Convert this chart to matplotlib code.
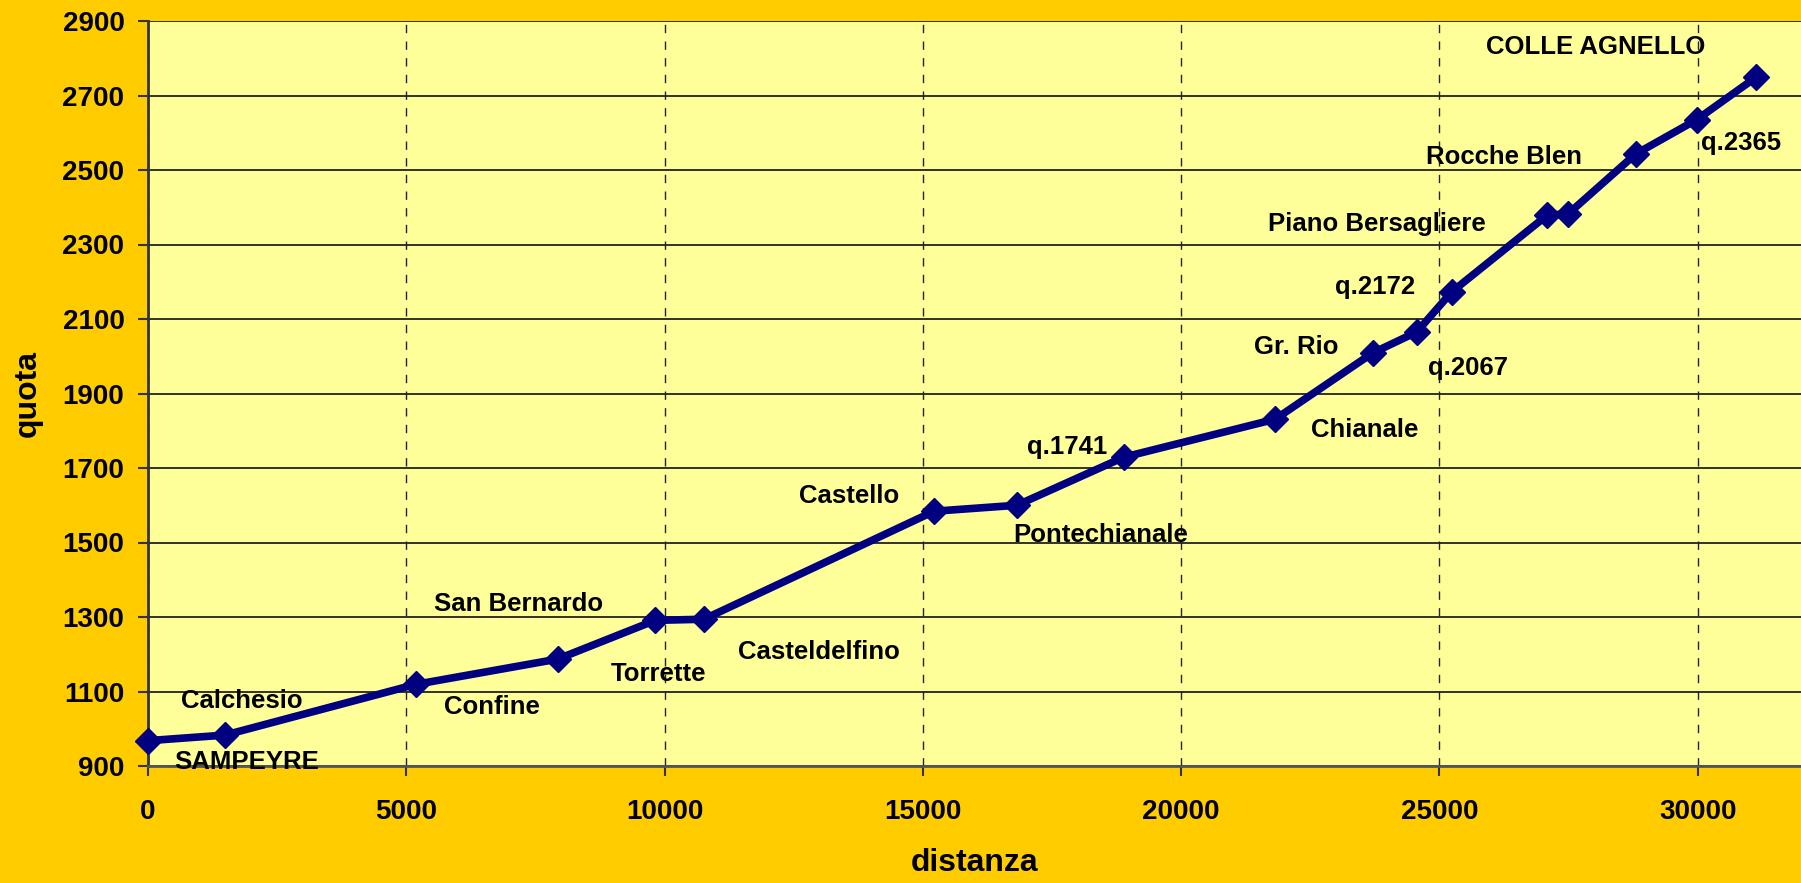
import matplotlib
matplotlib.use("Agg")
import matplotlib.pyplot as plt

# ---- data ----
distanza = [0, 1490, 5180, 7930, 9820, 10760, 15220, 16820, 18890, 21820,
            23710, 24560, 25240, 27090, 27490, 28800, 29980, 31130]
quota = [968, 983, 1119, 1187, 1291, 1294, 1584, 1600, 1729, 1831,
         2009, 2065, 2173, 2379, 2382, 2543, 2635, 2749]
labels = ["SAMPEYRE", "Calchesio", "Confine", "San Bernardo", "Torrette",
          "Casteldelfino", "Castello", "Pontechianale", "q.1741", "Chianale",
          "Gr. Rio", "q.2067", "q.2172", "Piano Bersagliere", "",
          "Rocche Blen", "q.2365", "COLLE AGNELLO"]
# label offsets from each point (pixels)
label_offsets = [(99, -21), (17, 34), (76, -23), (-39, 55), (3, -54),
                 (115, -33), (-85, 15), (84, -30), (-57, 10), (90, -11),
                 (-77, 6), (51, -36), (-77, 5), (-170, -9), (0, 0),
                 (-132, -3), (44, -23), (-160, 30)]
x_ticks = [0, 5000, 10000, 15000, 20000, 25000, 30000]
y_ticks = [900, 1100, 1300, 1500, 1700, 1900, 2100, 2300, 2500, 2700, 2900]

plt.rcParams['font.family'] = ['Liberation Sans', 'DejaVu Sans']
plt.rcParams['font.weight'] = 'bold'

W, H = 1801, 883
fig = plt.figure(figsize=(W / 100, H / 100), dpi=100, facecolor='#FFCC00')
ax = fig.add_axes([148 / W, 117 / H, (W - 148) / W, (766 - 21) / H])
ax.set_facecolor('#FFFF99')

ax.set_xlim(0, 32000)
ax.set_ylim(900, 2900)
ax.set_xticks(x_ticks)
ax.set_yticks(y_ticks)
ax.tick_params(axis='both', direction='out', length=7, width=1.5,
               color='#333333', labelsize=20)
ax.tick_params(axis='x', pad=17)
ax.tick_params(axis='y', pad=10)
for lab in ax.get_xticklabels() + ax.get_yticklabels():
    lab.set_fontweight('bold')

ax.yaxis.grid(True, color='#222222', linewidth=1.3, linestyle='-')
ax.xaxis.grid(True, color='#222222', linewidth=1.0, linestyle=(0, (6, 6)))
ax.set_axisbelow(True)

for s in ['top', 'right']:
    ax.spines[s].set_visible(False)
ax.spines['left'].set_color('#333333')
ax.spines['left'].set_linewidth(2)
ax.spines['bottom'].set_color('#555555')
ax.spines['bottom'].set_linewidth(2)

ax.plot(distanza, quota, color='#000080', linewidth=5.5, marker='D',
        markersize=13, markerfacecolor='#000080', markeredgecolor='#000080',
        zorder=5, clip_on=False)

for x, y, lab, (dx, dy) in zip(distanza, quota, labels, label_offsets):
    if lab:
        ax.annotate(lab, (x, y), xytext=(dx, dy), textcoords='offset pixels',
                    ha='center', va='center', fontsize=18.5,
                    fontweight='bold', color='black', zorder=6)

fig.text(975 / W, 1 - 863 / H, 'distanza', ha='center', va='center',
         fontsize=23, fontweight='bold')
fig.text(28 / W, 1 - 393 / H, 'quota', ha='center', va='center',
         rotation=90, fontsize=23, fontweight='bold')

fig.savefig('out.png', dpi=100, facecolor=fig.get_facecolor())
